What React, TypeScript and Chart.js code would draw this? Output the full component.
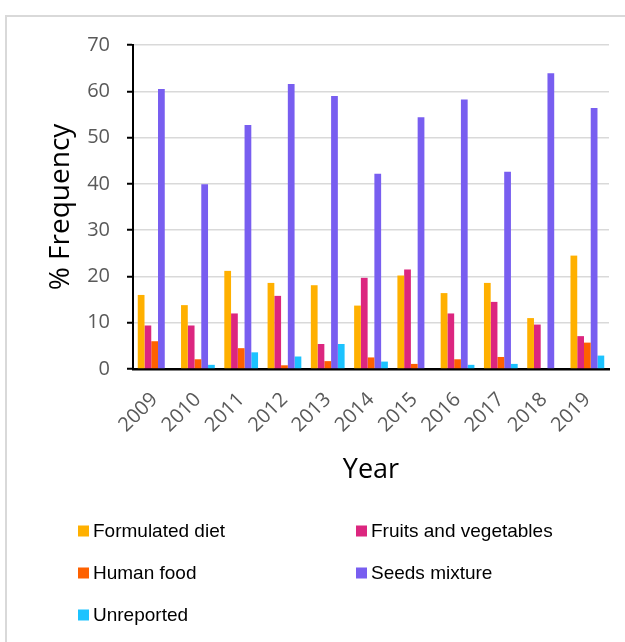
import { useEffect, useRef } from "react";
import { Chart, registerables } from "chart.js";

Chart.register(...registerables);

// Survey years on the category axis
const years = ["2009", "2010", "2011", "2012", "2013", "2014", "2015", "2016", "2017", "2018", "2019"];

// % frequency of each diet type per year
const formulatedDiet = [16.0, 13.8, 21.2, 18.6, 18.1, 13.7, 20.2, 16.4, 18.6, 11.0, 24.5];
const fruitsAndVegetables = [9.4, 9.4, 12.0, 15.8, 5.4, 19.7, 21.5, 12.0, 14.5, 9.6, 7.1];
const humanFood = [6.0, 2.1, 4.5, 0.8, 1.7, 2.5, 1.1, 2.1, 2.6, 0, 5.7];
const seedsMixture = [60.5, 39.9, 52.7, 61.6, 59.0, 42.2, 54.4, 58.2, 42.6, 63.9, 56.4];
const unreported = [0, 0.9, 3.6, 2.7, 5.4, 1.6, 0, 0.9, 1.1, 0, 2.9];

const seriesNames = ["Formulated diet", "Fruits and vegetables", "Human food", "Seeds mixture", "Unreported"];
const seriesColors = ["#FFB000", "#DC267F", "#FE6100", "#785EF0", "#1CC3FF"];

// Value axis range
const yMin = 0;
const yMax = 70;
const yStep = 10;

const AXIS_FONT = "'Open Sans', sans-serif";
const LEGEND_FONT = "'Liberation Sans', Arial, sans-serif";

// Light frame around the whole figure
const framePlugin = {
  id: "frame",
  beforeDraw(chart: Chart) {
    const { ctx, width, height } = chart;
    ctx.save();
    ctx.fillStyle = "#ffffff";
    ctx.fillRect(0, 0, width, height);
    ctx.strokeStyle = "#d9d9d9";
    ctx.lineWidth = 2;
    ctx.strokeRect(6, 16, width + 20, height + 20);
    ctx.restore();
  },
};

// Two-column legend under the axis title
const gridLegendPlugin = {
  id: "gridLegend",
  afterDraw(chart: Chart) {
    const { ctx, chartArea } = chart;
    const colX = [78, 356];
    const firstRowY = chartArea.bottom + 162;
    const rowGap = 42;
    const box = 11;
    ctx.save();
    ctx.font = `19px ${LEGEND_FONT}`;
    ctx.textBaseline = "middle";
    ctx.textAlign = "left";
    chart.data.datasets.forEach((ds: any, i: number) => {
      const x = colX[i % 2];
      const y = firstRowY + Math.floor(i / 2) * rowGap;
      ctx.fillStyle = ds.backgroundColor as string;
      ctx.fillRect(x, y - box / 2, box, box);
      ctx.fillStyle = "#000000";
      ctx.fillText(ds.label, x + box + 4, y + 1);
    });
    ctx.restore();
  },
};

export default function App() {
  const canvasRef = useRef<HTMLCanvasElement | null>(null);

  useEffect(() => {
    if (!canvasRef.current) return;
    const seriesValues = [formulatedDiet, fruitsAndVegetables, humanFood, seedsMixture, unreported];
    const chart = new Chart(canvasRef.current, {
      type: "bar",
      data: {
        labels: years,
        datasets: seriesNames.map((name, i) => ({
          label: name,
          data: seriesValues[i],
          backgroundColor: seriesColors[i],
          borderWidth: 0,
          categoryPercentage: 0.78,
          barPercentage: 1.0,
        })),
      },
      plugins: [framePlugin, gridLegendPlugin],
      options: {
        animation: false,
        responsive: false,
        devicePixelRatio: 1,
        layout: { padding: { left: 40, top: 45, right: 16, bottom: 150 } },
        plugins: {
          legend: { display: false },
          tooltip: { enabled: false },
        },
        scales: {
          x: {
            grid: { display: false, drawTicks: false },
            border: { display: true, color: "#000000", width: 2.5 },
            ticks: {
              autoSkip: false,
              minRotation: 45,
              maxRotation: 45,
              padding: 19,
              color: "#595959",
              font: { family: AXIS_FONT, size: 20 },
            },
            title: {
              display: true,
              text: "Year",
              color: "#000000",
              font: { family: AXIS_FONT, size: 27 },
              padding: { top: 0, bottom: 5 },
            },
            afterFit(scale: any) {
              scale.height = 123;
            },
          },
          y: {
            min: yMin,
            max: yMax,
            ticks: {
              stepSize: yStep,
              padding: 17,
              color: "#595959",
              font: { family: AXIS_FONT, size: 20 },
            },
            grid: {
              color: "#d9d9d9",
              lineWidth: 1.5,
              drawTicks: true,
              tickLength: 6,
              tickColor: "#000000",
              tickWidth: 2,
            },
            border: { display: true, color: "#000000", width: 2 },
            title: {
              display: true,
              text: "% Frequency",
              color: "#000000",
              font: { family: AXIS_FONT, size: 28 },
              padding: { top: 4, bottom: 0 },
            },
            afterFit(scale: any) {
              scale.width = 93;
            },
          },
        },
      },
    });
    return () => chart.destroy();
  }, []);

  return (
    <div style={{ position: "fixed", left: 0, top: 0, width: 625, height: 642, overflow: "hidden", background: "#fff" }}>
      <canvas ref={canvasRef} width={625} height={642} style={{ width: 625, height: 642, display: "block" }} />
    </div>
  );
}
